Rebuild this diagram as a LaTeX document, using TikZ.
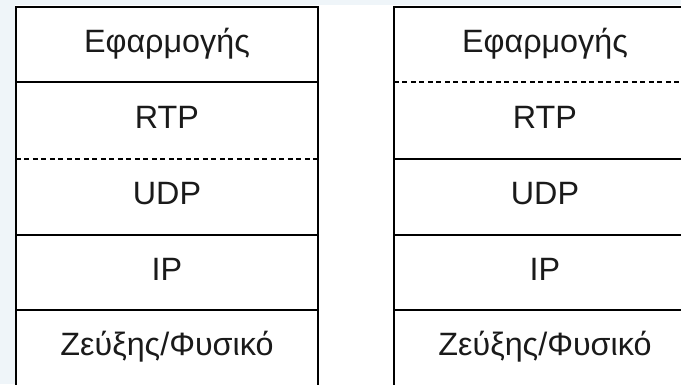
\documentclass[tikz,border=0pt]{standalone}
\usepackage{fontspec}
\setmainfont{Liberation Sans}
\definecolor{pagebg}{RGB}{239,245,249}
\definecolor{ink}{RGB}{26,26,26}
\begin{document}
\begin{tikzpicture}[x=1pt,y=-1pt,
  layer/.style={minimum width=302pt, minimum height=#1, inner sep=0pt,
    text height=23pt, text depth=8pt,
    font=\fontsize{32.3}{37}\selectfont, text=ink},
  frame/.style={draw=black, line width=2.4pt},
  solidsep/.style={draw=black, line width=2.4pt},
  dashsep/.style={draw=black, line width=2.4pt, dash pattern=on 5pt off 3.5pt}]
\useasboundingbox (0,0) rectangle (681,384);
\clip (0,0) rectangle (681,384);
\fill[pagebg] (0,0) rectangle (681,384);
\fill[white] (15,5) rectangle (681,384);

% left protocol stack
\node[layer=75pt] (a1) at (167,44.5)  {Εφαρμογής};
\node[layer=77pt] (a2) at (167,120.5) {RTP};
\node[layer=76pt] (a3) at (167,197)   {UDP};
\node[layer=75pt] (a4) at (167,272.5) {IP};
\node[layer=76pt] (a5) at (167,348)   {Ζεύξης/Φυσικό};
\draw[frame] (a1.north west) rectangle (a5.south east);
\draw[solidsep] (a1.south west) -- (a1.south east);
\draw[dashsep]  (a2.south west) -- (a2.south east);
\draw[solidsep] (a3.south west) -- (a3.south east);
\draw[solidsep] (a4.south west) -- (a4.south east);

% right protocol stack
\node[layer=75pt] (b1) at (545,44.5)  {Εφαρμογής};
\node[layer=77pt] (b2) at (545,120.5) {RTP};
\node[layer=76pt] (b3) at (545,197)   {UDP};
\node[layer=75pt] (b4) at (545,272.5) {IP};
\node[layer=76pt] (b5) at (545,348)   {Ζεύξης/Φυσικό};
\draw[frame] (b1.north west) rectangle (b5.south east);
\draw[dashsep]  (b1.south west) -- (b1.south east);
\draw[solidsep] (b2.south west) -- (b2.south east);
\draw[solidsep] (b3.south west) -- (b3.south east);
\draw[solidsep] (b4.south west) -- (b4.south east);
\end{tikzpicture}
\end{document}
